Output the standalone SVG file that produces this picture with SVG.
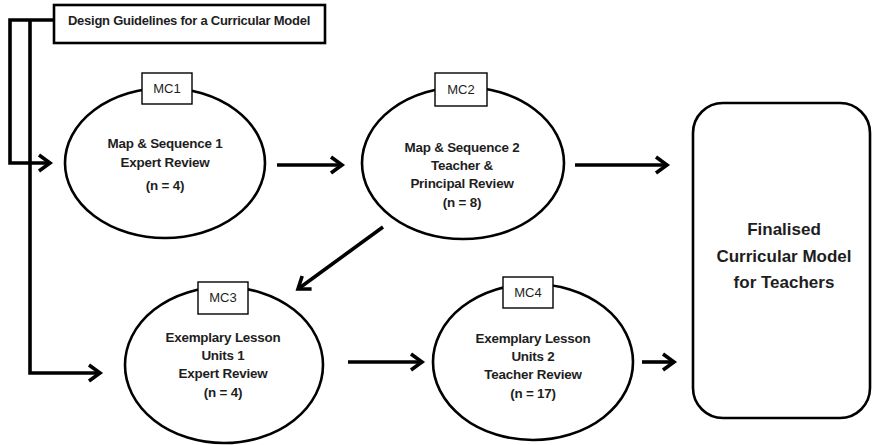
<svg xmlns="http://www.w3.org/2000/svg" width="873" height="445" viewBox="0 0 873 445">
  <style>
    .bg { fill: #ffffff; }
    .ell { fill: #ffffff; stroke: #000000; stroke-width: 2.6; }
    .tag { fill: #ffffff; stroke: #000000; stroke-width: 1.4; }
    .title-box { fill: #ffffff; stroke: #000000; stroke-width: 2.6; }
    .final { fill: #ffffff; stroke: #000000; stroke-width: 2.6; }
    .conn { fill: none; stroke: #000000; stroke-width: 3.6; stroke-linejoin: miter; }
    .t { font-family: "Liberation Sans", Arial, sans-serif; fill: #1e1e1e; text-anchor: middle; }
    .tb { font-weight: bold; font-size: 13.4px; letter-spacing: -0.2px; }
    .tn { font-size: 13px; }
    .tt { font-weight: bold; font-size: 13px; letter-spacing: -0.25px; }
    .tf { font-weight: bold; font-size: 17px; }
  </style>
  <defs>
    <marker id="chev" markerUnits="userSpaceOnUse" viewBox="-16 -12 20 24" refX="0" refY="0" markerWidth="20" markerHeight="24" orient="auto">
      <path d="M-11,-8 L0,0 L-11,8" fill="none" stroke="#000000" stroke-width="3.6" stroke-linejoin="miter"/>
    </marker>
  </defs>

  <rect class="bg" x="0" y="0" width="873" height="445"/>

  <!-- connectors -->
  <g id="connectors">
    <path class="conn" d="M54,20 L10,20 L10,163 L50,163" marker-end="url(#chev)"/>
    <path class="conn" d="M30,20 L30,373 L100,373" marker-end="url(#chev)"/>
    <path class="conn" d="M277,165 L342,165" marker-end="url(#chev)"/>
    <path class="conn" d="M575,165 L667,165" marker-end="url(#chev)"/>
    <path class="conn" d="M383,227 L298,289" marker-end="url(#chev)"/>
    <path class="conn" d="M348,362 L422,362" marker-end="url(#chev)"/>
    <path class="conn" d="M642,362 L674,362" marker-end="url(#chev)"/>
  </g>

  <!-- title box -->
  <g id="title">
    <rect class="title-box" x="54" y="5" width="271" height="38"/>
    <text class="t tt" x="189" y="25">Design Guidelines for a Curricular Model</text>
  </g>

  <!-- MC1 -->
  <g id="mc1">
    <ellipse class="ell" cx="165" cy="163" rx="100" ry="75"/>
    <rect class="tag" x="142" y="73" width="50" height="31"/>
    <text class="t tn" x="167" y="93">MC1</text>
    <text class="t tb" x="165" y="148">Map &amp; Sequence 1</text>
    <text class="t tb" x="165" y="167">Expert Review</text>
    <text class="t tb" x="165" y="190">(n = 4)</text>
  </g>

  <!-- MC2 -->
  <g id="mc2">
    <ellipse class="ell" cx="463" cy="163" rx="101" ry="76"/>
    <rect class="tag" x="435" y="73" width="52" height="33"/>
    <text class="t tn" x="461" y="94">MC2</text>
    <text class="t tb" x="462" y="152">Map &amp; Sequence 2</text>
    <text class="t tb" x="462" y="170">Teacher &amp;</text>
    <text class="t tb" x="462" y="188">Principal Review</text>
    <text class="t tb" x="462" y="207">(n = 8)</text>
  </g>

  <!-- MC3 -->
  <g id="mc3">
    <ellipse class="ell" cx="224" cy="365" rx="99" ry="78"/>
    <rect class="tag" x="198" y="282" width="50" height="32"/>
    <text class="t tn" x="223" y="302">MC3</text>
    <text class="t tb" x="223" y="342">Exemplary Lesson</text>
    <text class="t tb" x="223" y="360">Units 1</text>
    <text class="t tb" x="223" y="378">Expert Review</text>
    <text class="t tb" x="223" y="397">(n = 4)</text>
  </g>

  <!-- MC4 -->
  <g id="mc4">
    <ellipse class="ell" cx="533" cy="362" rx="100" ry="78"/>
    <rect class="tag" x="503" y="277" width="50" height="31"/>
    <text class="t tn" x="528" y="297">MC4</text>
    <text class="t tb" x="533" y="343">Exemplary Lesson</text>
    <text class="t tb" x="533" y="361">Units 2</text>
    <text class="t tb" x="533" y="379">Teacher Review</text>
    <text class="t tb" x="533" y="398">(n = 17)</text>
  </g>

  <!-- final model -->
  <g id="final">
    <rect class="final" x="693" y="103" width="177" height="315" rx="30" ry="30"/>
    <text class="t tf" x="784" y="235">Finalised</text>
    <text class="t tf" x="784" y="262">Curricular Model</text>
    <text class="t tf" x="784" y="288">for Teachers</text>
  </g>
</svg>
